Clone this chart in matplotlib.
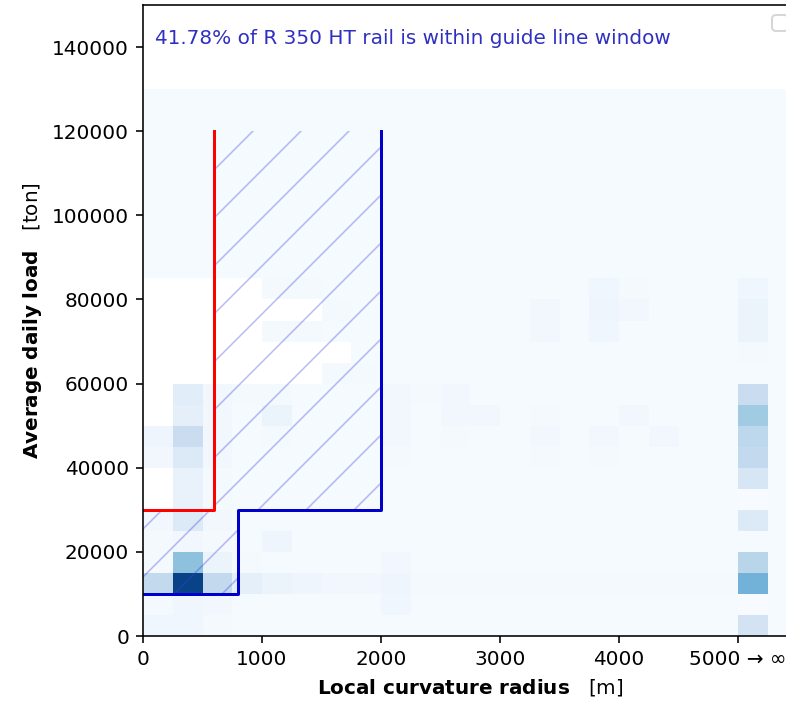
import numpy as np
import matplotlib
matplotlib.use('Agg')
import matplotlib.pyplot as plt

N = np.nan

# bin edges of the 2D histogram (radius in m, load in ton)
radius_edges = np.arange(0, 5501, 250)
load_edges = np.arange(0, 130001, 5000)

# share of rail length per bin, rows listed from the top band (125000-130000) down to 0-5000
# columns: 0-250, 250-500, ..., 5250-5500 (5000-5250 holds every radius above 5000)
rail_share = [
    [1, 1, 1, 1, 1, 1, 1, 1, 1, 1, 1, 1, 1, 1, 1, 1, 1, 1, 1, 1, 1, 1],
    [1, 1, 1, 1, 1, 1, 1, 1, 1, 1, 1, 1, 1, 1, 1, 1, 1, 1, 1, 1, 1, 1],
    [1, 1, 1, 1, 1, 1, 1, 1, 1, 1, 1, 1, 1, 1, 1, 1, 1, 1, 1, 1, 1, 1],
    [1, 1, 1, 1, 1, 1, 1, 1, 1, 1, 1, 1, 1, 1, 1, 1, 1, 1, 1, 1, 1, 1],
    [1, 1, 1, 1, 1, 1, 1, 1, 1, 1, 1, 1, 1, 1, 1, 1, 1, 1, 1, 1, 1, 1],
    [1, 1, 1, 1, 1, 1, 1, 1, 1, 1, 1, 1, 1, 1, 1, 1, 1, 1, 1, 1, 1, 1],
    [1, 1, 1, 1, 1, 1, 1, 1, 1, 1, 1, 1, 1, 1, 1, 1, 1, 1, 1, 1, 1, 1],
    [1, 1, 1, 1, 1, 1, 1, 1, 1, 1, 1, 1, 1, 1, 1, 1, 1, 1, 1, 1, 1, 1],
    [1, 1, 1, 1, 1, 1, 1, 1, 1, 1, 1, 1, 1, 1, 1, 1, 1, 1, 1, 1, 1, 1],
    [N, N, N, N, 2, 2, 1, 1, 1, 1, 1, 1, 1, 1, 1, 4, 2, 1, 1, 1, 4, 1],
    [N, N, N, N, N, N, 2, 1, 1, 1, 1, 1, 1, 3, 1, 5, 3, 1, 1, 1, 6, 1],
    [N, N, N, N, 2, 2, 1, 1, 1, 1, 1, 1, 1, 3, 1, 4, 1, 1, 1, 1, 6, 1],
    [N, N, N, N, N, N, N, 1, 1, 1, 1, 1, 1, 1, 1, 1, 1, 1, 1, 1, 2, 1],
    [N, N, N, N, N, N, 2, 2, 1, 1, 1, 1, 1, 1, 1, 1, 1, 1, 1, 1, 1, 1],
    [N, 12, 3, 2, 2, 1, 1, 1, 3, 2, 3, 1, 1, 1, 1, 1, 1, 1, 1, 1, 25, 1],
    [N, 10, 3, 1, 6, 1, 1, 1, 3, 1, 3, 3, 1, 2, 1, 1, 3, 1, 1, 1, 40, 1],
    [5, 25, 3, 1, 2, 1, 1, 1, 3, 1, 2, 1, 1, 3, 1, 3, 1, 3, 1, 1, 30, 1],
    [3, 15, 3, 1, 1, 1, 1, 1, 2, 1, 1, 1, 1, 2, 1, 2, 1, 1, 1, 1, 28, 1],
    [N, 8, 2, 1, 1, 1, 1, 1, 1, 1, 1, 1, 1, 1, 1, 1, 1, 1, 1, 1, 18, 1],
    [N, 8, 2, 1, 1, 1, 1, 1, 1, 1, 1, 1, 1, 1, 1, 1, 1, 1, 1, 1, 0, 1],
    [3, 15, 3, 1, 1, 1, 1, 1, 1, 1, 1, 1, 1, 1, 1, 1, 1, 1, 1, 1, 15, 1],
    [2, 3, 2, 1, 5, 1, 1, 1, 1, 1, 1, 1, 1, 1, 1, 1, 1, 1, 1, 1, 1, 1],
    [2, 45, 6, 2, 1, 1, 1, 1, 3, 1, 1, 1, 1, 1, 1, 1, 1, 1, 1, 1, 32, 1],
    [28, 100, 28, 10, 6, 5, 3, 3, 5, 2, 2, 2, 2, 2, 2, 2, 2, 2, 2, 2, 52, 1],
    [2, 4, 3, 1, 1, 1, 1, 1, 4, 1, 1, 1, 1, 1, 1, 1, 1, 1, 1, 1, 0, 1],
    [4, 4, 2, 1, 1, 1, 1, 1, 1, 1, 1, 1, 1, 1, 1, 1, 1, 1, 1, 1, 20, 1],
]

# guide line window for R 350 HT rail
upper_radius = [0, 600, 600]
upper_load = [30000, 30000, 120000]
lower_radius = [0, 800, 800, 2000, 2000]
lower_load = [10000, 10000, 30000, 30000, 120000]
share_in_window = 41.78

x_ticks = [0, 1000, 2000, 3000, 4000, 5000]
x_tick_labels = ['0', '1000', '2000', '3000', '4000', '5000 → ∞']
y_ticks = list(range(0, 140001, 20000))

dpi = 144
plt.rcParams['hatch.linewidth'] = 0.8

fig = plt.figure(figsize=(786 / dpi, 703 / dpi), dpi=dpi)
ax = fig.add_axes([143 / 786, 67 / 703, 654.5 / 786, 631 / 703])

grid = np.flipud(np.array(rail_share, dtype=float))
ax.pcolormesh(radius_edges, load_edges, np.ma.masked_invalid(grid),
              cmap='Blues', vmin=0, vmax=108)

# hatched window between the two guide lines
window_x = lower_radius + upper_radius[::-1]
window_y = lower_load + upper_load[::-1]
ax.fill(window_x, window_y, facecolor='none', edgecolor=(0.25, 0.25, 0.85, 0.35),
        hatch='/', linewidth=0)
ax.plot(upper_radius, upper_load, color='red', linewidth=1.5)
ax.plot(lower_radius, lower_load, color='mediumblue', linewidth=1.5)

ax.text(100, 142000, '%.2f%% of R 350 HT rail is within guide line window' % share_in_window,
        color='#3030c0', va='center', ha='left')

ax.set_xlim(0, 5500)
ax.set_ylim(0, 150000)
ax.set_xticks(x_ticks)
ax.set_xticklabels(x_tick_labels)
ax.set_yticks(y_ticks)
ax.set_xlabel(r'$\bf{Local\ curvature\ radius}$   [m]', labelpad=4)
ax.set_ylabel(r'$\bf{Average\ daily\ load}$   [ton]', labelpad=4)
ax.legend(handles=[], loc='upper right')

fig.savefig('out.png', dpi=dpi)
